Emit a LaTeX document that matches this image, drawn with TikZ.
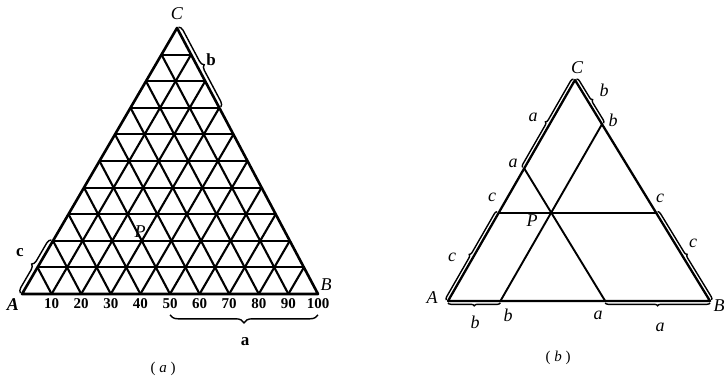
\documentclass[tikz,border=0pt]{standalone}
\usepackage{fontspec}
\setmainfont{Liberation Serif}
\usetikzlibrary{calc,decorations.pathreplacing}
\begin{document}
\begin{tikzpicture}[x=1pt,y=-1pt,
  side/.style={line width=2.6pt, line join=round},
  gridln/.style={line width=2.1pt},
  inner/.style={line width=1.9pt},
  brc/.style={decorate, decoration={brace,amplitude=#1,raise=1.8pt}, line width=1.4pt},
  lbl/.style={font=\fontsize{18}{20}\selectfont\itshape, inner sep=0pt},
  blbl/.style={font=\fontsize{17}{19}\selectfont\bfseries, inner sep=0pt},
  num/.style={font=\fontsize{15}{17}\selectfont\bfseries, inner sep=0pt},
  captxt/.style={font=\fontsize{15}{17}\selectfont, inner sep=0pt}]
\useasboundingbox (0,0) rectangle (728,378);
% ---------- (a) ----------
\coordinate (A) at (22,294);
\coordinate (B) at (318,294);
\coordinate (C) at (177,28);
\foreach \k in {1,...,9} {
  \pgfmathsetmacro\kk{1-\k/10}
  \draw[gridln] ($(A)!\k/10!(C)$) -- ($(B)!\k/10!(C)$);
  \draw[gridln] ($(A)!\k/10!(B)$) -- ($(B)!\kk!(C)$);
  \draw[gridln] ($(A)!\k/10!(B)$) -- ($(A)!\k/10!(C)$);
}
\draw[side] (A) -- (B) -- (C) -- cycle;
\foreach \k in {10,20,...,100} {
  \node[num] (n\k) at ($(A)!\k/100!(B)+(0,10)$) {\k};
}
\node[lbl, font=\fontsize{18}{20}\selectfont\bfseries\itshape] (lA) at (13,305) {A};
\node[lbl] (lB) at (326,285) {B};
\node[lbl] (lC) at (177,14) {C};
\node[lbl] (lP) at (140,232) {P};
\coordinate (c2) at ($(A)!0.2!(C)$);
\coordinate (b3) at ($(C)!0.3!(B)$);
\draw[brc=5pt] (A) -- (c2);
\draw[brc=5pt] (C) -- (b3);
\node[blbl] (lc) at (20,253) {c};
\node[blbl] (lb) at (211,60) {b};
\coordinate (ab1) at (318,313);
\coordinate (ab2) at (170,313);
\draw[brc=8pt] (ab1) -- (ab2);
\node[blbl] (la) at (245,342) {a};
\node[captxt] (capa) at (163,369) {( \textit{a} )};
% ---------- (b) ----------
\coordinate (A2) at (448,301);
\coordinate (B2) at (710,301);
\coordinate (C2) at (575,80);
\coordinate (aL) at ($(C2)!0.4!(A2)$);
\coordinate (bR) at ($(C2)!0.2!(B2)$);
\coordinate (cL) at ($(A2)!0.4!(C2)$);
\coordinate (cR) at ($(B2)!0.4!(C2)$);
\coordinate (aB) at ($(B2)!0.4!(A2)$);
\coordinate (bB) at ($(A2)!0.2!(B2)$);
\draw[inner] (cL) -- (cR);
\draw[inner] (aL) -- (aB);
\draw[inner] (bR) -- (bB);
\draw[side, line width=2.3pt] (A2) -- (B2) -- (C2) -- cycle;
\draw[brc=3pt] (aL) -- (C2);
\draw[brc=3pt] (C2) -- (bR);
\draw[brc=3pt] (A2) -- (cL);
\draw[brc=3pt] (cR) -- (B2);
\draw[brc=3pt] (bB) -- (A2);
\draw[brc=3pt] (B2) -- (aB);
\node[lbl] (pa1) at (513,163) {a};
\node[lbl] (pb1) at (613,120) {b};
\node[lbl] (pc1) at (492,197) {c};
\node[lbl] (pc2) at (660,198) {c};
\node[lbl] (pb2) at (508,315) {b};
\node[lbl] (pa2) at (598,315) {a};
\node[lbl] (ba1) at (533,117) {a};
\node[lbl] (bb1) at (604,90) {b};
\node[lbl] (bc1) at (452,257) {c};
\node[lbl] (bc2) at (693,243) {c};
\node[lbl] (bb2) at (475,322) {b};
\node[lbl] (ba2) at (660,327) {a};
\node[lbl] (lP2) at (532,221) {P};
\node[lbl] (lA2) at (432,298) {A};
\node[lbl] (lB2) at (719,306) {B};
\node[lbl] (lC2) at (577,68) {C};
\node[captxt] (capb) at (558,358) {( \textit{b} )};
\end{tikzpicture}
\end{document}
